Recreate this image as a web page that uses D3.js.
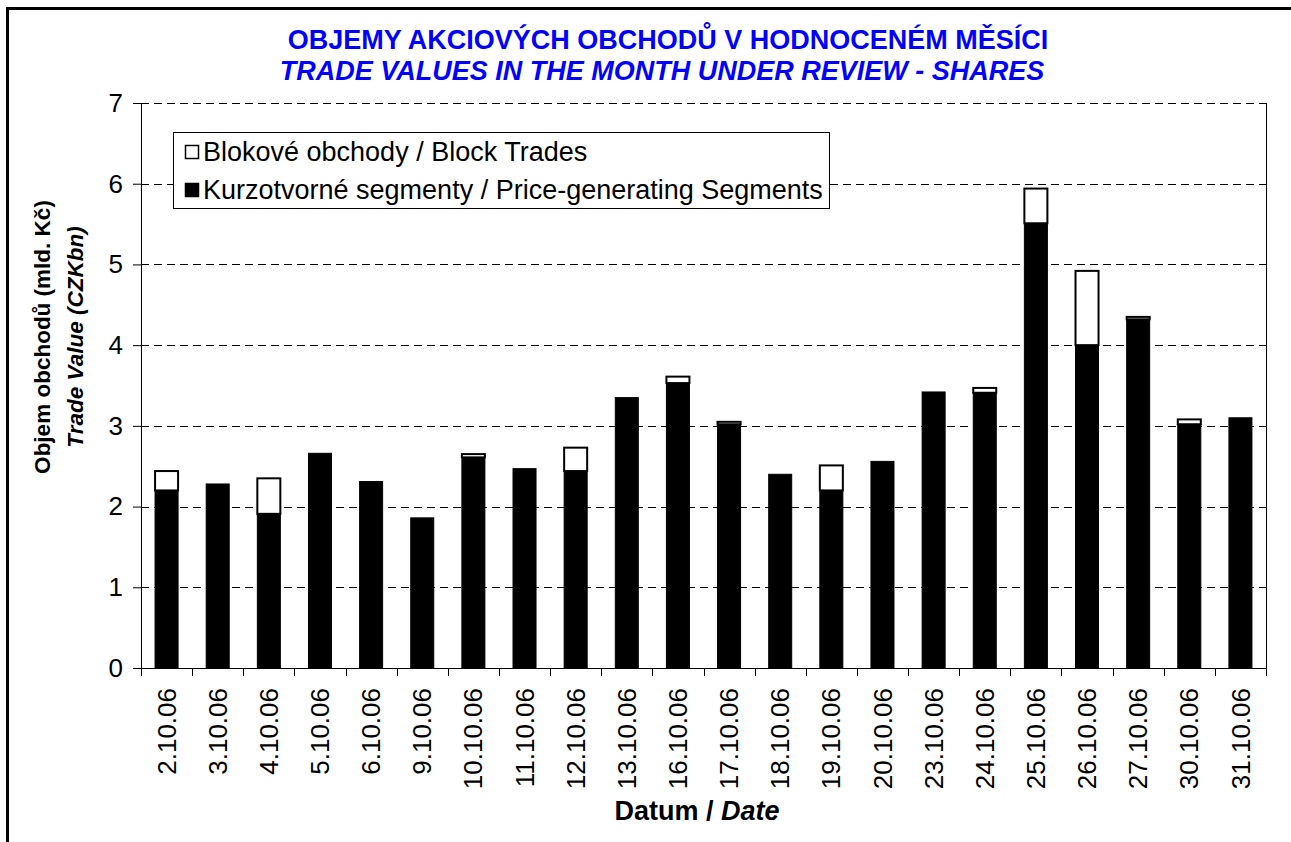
<!DOCTYPE html>
<html>
<head>
<meta charset="utf-8">
<script src="https://cdn.jsdelivr.net/npm/d3@7"></script>
<style>
  body { margin: 0; background: #fff; }
  text { font-family: "Liberation Sans", Arial, sans-serif; }
</style>
</head>
<body>
<div id="chart"></div>
<script>
// data (mld. Kč)
var dates = ["2.10.06", "3.10.06", "4.10.06", "5.10.06", "6.10.06", "9.10.06", "10.10.06",
  "11.10.06", "12.10.06", "13.10.06", "16.10.06", "17.10.06", "18.10.06", "19.10.06",
  "20.10.06", "23.10.06", "24.10.06", "25.10.06", "26.10.06", "27.10.06", "30.10.06", "31.10.06"];
var priceGenerating = [2.20, 2.28, 1.91, 2.66, 2.31, 1.86, 2.61, 2.47, 2.44, 3.35, 3.53,
  3.02, 2.40, 2.20, 2.56, 3.42, 3.41, 5.51, 4.00, 4.32, 3.02, 3.10];
var blockTrades = [0.24, 0, 0.44, 0, 0, 0, 0.04, 0, 0.29, 0, 0.08,
  0.03, 0, 0.31, 0, 0, 0.06, 0.43, 0.92, 0.03, 0.06, 0];
var yTicks = [0, 1, 2, 3, 4, 5, 6, 7];
var legendLabels = ["Blokové obchody / Block Trades", "Kurzotvorné segmenty / Price-generating Segments"];

var svgWidth = 1291;
var svgHeight = 842;
var margin = { top: 103, right: 25, bottom: 174, left: 141 };
var width = svgWidth - margin.left - margin.right;
var height = svgHeight - margin.top - margin.bottom;

var svg = d3.select("#chart")
  .append("svg")
  .attr("width", svgWidth)
  .attr("height", svgHeight);

svg.append("rect")
  .attr("width", svgWidth)
  .attr("height", svgHeight)
  .attr("fill", "#fff");

// thick outer frame (right / bottom edges fall outside the picture)
svg.append("rect")
  .attr("x", 7.5)
  .attr("y", 8.5)
  .attr("width", 1400)
  .attr("height", 1000)
  .attr("fill", "none")
  .attr("stroke", "#000")
  .attr("stroke-width", 3);

// titles
svg.append("text")
  .attr("x", 668)
  .attr("y", 49)
  .attr("text-anchor", "middle")
  .attr("font-size", "27px")
  .attr("font-weight", "bold")
  .attr("fill", "#0000ff")
  .text("OBJEMY AKCIOVÝCH OBCHODŮ V HODNOCENÉM MĚSÍCI");

svg.append("text")
  .attr("x", 662)
  .attr("y", 80)
  .attr("text-anchor", "middle")
  .attr("font-size", "27px")
  .attr("font-weight", "bold")
  .attr("font-style", "italic")
  .attr("fill", "#0000ff")
  .text("TRADE VALUES IN THE MONTH UNDER REVIEW - SHARES");

var chartGroup = svg.append("g")
  .attr("transform", `translate(${margin.left}, ${margin.top})`);

var xScale = d3.scaleBand()
  .domain(dates)
  .range([0, width])
  .paddingInner(0.55)
  .paddingOuter(0.275);

var yScale = d3.scaleLinear()
  .domain([0, 7])
  .range([height, 0]);

// dashed gridlines
chartGroup.selectAll(".grid")
  .data(yTicks.slice(1))
  .enter()
  .append("line")
  .attr("class", "grid")
  .attr("x1", 0)
  .attr("x2", width)
  .attr("y1", d => Math.round(yScale(d)) + 0.5)
  .attr("y2", d => Math.round(yScale(d)) + 0.5)
  .attr("stroke", "#000")
  .attr("stroke-width", 1)
  .attr("stroke-dasharray", "8,5");

// right edge of the plot area
chartGroup.append("line")
  .attr("x1", width + 0.5)
  .attr("x2", width + 0.5)
  .attr("y1", 0)
  .attr("y2", height)
  .attr("stroke", "#000");

// bars: price-generating segments at the bottom, block trades on top
chartGroup.selectAll(".pg")
  .data(dates)
  .enter()
  .append("rect")
  .attr("class", "pg")
  .attr("x", d => xScale(d))
  .attr("width", xScale.bandwidth())
  .attr("y", (d, i) => yScale(priceGenerating[i]))
  .attr("height", (d, i) => height - yScale(priceGenerating[i]))
  .attr("fill", "#000")
  .attr("stroke", "#000")
  .attr("stroke-width", 1);

chartGroup.selectAll(".bt")
  .data(dates.filter((d, i) => blockTrades[i] > 0))
  .enter()
  .append("rect")
  .attr("class", "bt")
  .attr("x", d => xScale(d))
  .attr("width", xScale.bandwidth())
  .attr("y", d => {
    var i = dates.indexOf(d);
    return yScale(priceGenerating[i] + blockTrades[i]);
  })
  .attr("height", d => {
    var i = dates.indexOf(d);
    return yScale(priceGenerating[i]) - yScale(priceGenerating[i] + blockTrades[i]);
  })
  .attr("fill", "#fff")
  .attr("stroke", "#000")
  .attr("stroke-width", 2);

// axes
var leftAxis = d3.axisLeft(yScale)
  .tickValues(yTicks)
  .tickSize(8)
  .tickPadding(10)
  .tickFormat(d3.format("d"));

var yAxisG = chartGroup.append("g")
  .call(leftAxis);
yAxisG.selectAll("text")
  .attr("font-size", "26px")
  .attr("font-family", "'Liberation Sans', Arial, sans-serif")
  .attr("fill", "#000");

var bottomAxis = d3.axisBottom(xScale)
  .tickSize(0)
  .tickPadding(0);

var xAxisG = chartGroup.append("g")
  .attr("transform", `translate(0, ${height})`)
  .call(bottomAxis);
xAxisG.selectAll(".tick line").remove();
xAxisG.selectAll("text")
  .attr("font-size", "26px")
  .attr("font-family", "'Liberation Sans', Arial, sans-serif")
  .attr("fill", "#000")
  .attr("text-anchor", "end")
  .attr("dy", "0.35em")
  .attr("transform", "translate(0, 20) rotate(-90)")
  .attr("x", 0)
  .attr("y", 0);

// tick marks between the categories
var boundaries = dates.map(d => xScale(d) - xScale.step() * xScale.paddingInner() / 2);
boundaries.push(width);
xAxisG.selectAll(".sep")
  .data(boundaries)
  .enter()
  .append("line")
  .attr("class", "sep")
  .attr("x1", d => Math.round(d) + 0.5)
  .attr("x2", d => Math.round(d) + 0.5)
  .attr("y1", 0)
  .attr("y2", 8)
  .attr("stroke", "#000");

// axis titles
var yTitle = svg.append("g")
  .attr("transform", "translate(42, 337) rotate(-90)");
yTitle.append("text")
  .attr("text-anchor", "middle")
  .attr("dy", "0.35em")
  .attr("font-size", "22.5px")
  .attr("font-weight", "bold")
  .text("Objem obchodů (mld. Kč)");
yTitle.append("text")
  .attr("text-anchor", "middle")
  .attr("y", 33)
  .attr("dy", "0.35em")
  .attr("font-size", "22.5px")
  .attr("font-weight", "bold")
  .attr("font-style", "italic")
  .text("Trade Value (CZKbn)");

var xTitle = svg.append("text")
  .attr("x", 697)
  .attr("y", 820)
  .attr("text-anchor", "middle")
  .attr("font-size", "27px")
  .attr("font-weight", "bold");
xTitle.append("tspan").text("Datum / ");
xTitle.append("tspan").attr("font-style", "italic").text("Date");

// legend
var legend = svg.append("g")
  .attr("transform", "translate(173, 132)");
legend.append("rect")
  .attr("x", 0.5)
  .attr("y", 0.5)
  .attr("width", 656)
  .attr("height", 76)
  .attr("fill", "#fff")
  .attr("stroke", "#000");

var legendFills = ["#fff", "#000"];
var legendItems = legend.selectAll(".item")
  .data(legendLabels)
  .enter()
  .append("g")
  .attr("class", "item")
  .attr("transform", (d, i) => `translate(12, ${20 + i * 38})`);
legendItems.append("rect")
  .attr("x", 0.5)
  .attr("y", -6.5)
  .attr("width", 13)
  .attr("height", 13)
  .attr("fill", (d, i) => legendFills[i])
  .attr("stroke", "#000")
  .attr("stroke-width", 1.5);
legendItems.append("text")
  .attr("x", 18)
  .attr("dy", "0.35em")
  .attr("font-size", "27px")
  .text(d => d);
</script>
</body>
</html>
